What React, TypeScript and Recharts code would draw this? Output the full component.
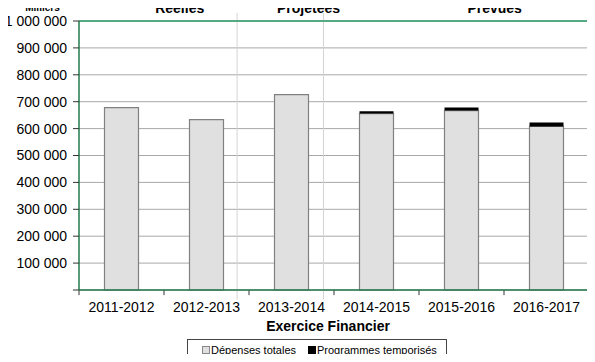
import React from 'react';
import {
  BarChart,
  Bar,
  XAxis,
  YAxis,
  CartesianGrid,
  Legend,
  ReferenceLine,
} from 'recharts';

// valeurs en milliers de dollars
const categories = ['2011-2012', '2012-2013', '2013-2014', '2014-2015', '2015-2016', '2016-2017'];
const depensesTotales = [678000, 633000, 726000, 656000, 667000, 608000];
const programmesTemporises = [0, 0, 0, 8500, 11000, 15000];
const yTicks = [0, 100000, 200000, 300000, 400000, 500000, 600000, 700000, 800000, 900000, 1000000];
const boundaryTicks = [0, 1, 2, 3, 4, 5, 6];

// séparateurs et titres de période (position sur l'axe des exercices, 0..6)
const dividers = [1.86, 2.876];
const periodLabels = ['Réelles', 'Projetées', 'Prévues'];
const periodCenters = [1.185, 2.7, 4.89];

const GREEN = '#2e9b68';
const AXIS_GREEN = '#1f7a4c';
const FONT = '"Liberation Sans", Arial, sans-serif';

const data = categories.map((name, i) => ({
  name,
  pos: i + 0.5,
  depenses: depensesTotales[i],
  temporises: programmesTemporises[i],
}));

const fmt = (v: number) => (v === 0 ? '' : String(v).replace(/\B(?=(\d{3})+(?!\d))/g, ' '));

function LegendBox() {
  const item = (color: string, border: string, text: string) => (
    <span style={{ display: 'inline-flex', alignItems: 'center', marginRight: 12 }}>
      <span
        style={{
          display: 'inline-block',
          width: 6,
          height: 6,
          background: color,
          border: `1px solid ${border}`,
          marginRight: 1,
        }}
      />
      {text}
    </span>
  );
  return (
    <div
      style={{
        border: '1px solid #444',
        width: 260,
        height: 22,
        boxSizing: 'border-box',
        display: 'flex',
        alignItems: 'center',
        paddingLeft: 14,
        fontSize: 11,
        color: '#000',
        fontFamily: FONT,
        whiteSpace: 'nowrap',
      }}
    >
      {item('#e0e0e0', '#888', 'Dépenses totales')}
      {item('#000', '#000', 'Programmes temporisés')}
    </div>
  );
}

export default function App() {
  return (
    <div style={{ margin: -8, width: 595, height: 362, background: '#fff', fontFamily: FONT }}>
      <BarChart
        width={595}
        height={362}
        data={data}
        margin={{ top: 21, right: 6, bottom: 0, left: 0 }}
        barCategoryGap="30%"
      >
        <CartesianGrid vertical={false} stroke="#a8a8a8" />
        {/* axe numérique caché : repères entre exercices et séparateurs */}
        <XAxis
          xAxisId="div"
          dataKey="pos"
          type="number"
          domain={[0, 6]}
          allowDataOverflow
          hide
        />
        <XAxis
          dataKey="name"
          height={72}
          tickLine={false}
          tickSize={5}
          tickMargin={7}
          axisLine={{ stroke: AXIS_GREEN, strokeWidth: 1.5 }}
          tick={{ fill: '#000', fontSize: 14 }}
          interval={0}
          label={{
            value: 'Exercice Financier',
            position: 'insideBottom',
            offset: 31,
            dx: -6,
            fill: '#000',
            fontSize: 14,
            fontWeight: 'bold',
          }}
        />
        <YAxis
          domain={[0, 1000000]}
          ticks={yTicks}
          interval={0}
          width={79}
          tickSize={6}
          tickMargin={6}
          tickFormatter={fmt}
          axisLine={{ stroke: AXIS_GREEN, strokeWidth: 1.5 }}
          tickLine={{ stroke: '#333' }}
          tick={{ fill: '#000', fontSize: 14 }}
          label={{
            value: 'Milliers',
            position: 'top',
            offset: 10,
            dx: 3,
            fill: '#000',
            fontSize: 10,
            fontWeight: 'bold',
          }}
        />
        {dividers.map((d) => (
          <ReferenceLine
            key={d}
            xAxisId="div"
            segment={[
              { x: d, y: 1030000 },
              { x: d, y: -35000 },
            ]}
            ifOverflow="visible"
            stroke="#d4d4d4"
          />
        ))}
        {boundaryTicks.map((t) => (
          <ReferenceLine
            key={`tick-${t}`}
            xAxisId="div"
            segment={[
              { x: t, y: 0 },
              { x: t, y: -19000 },
            ]}
            ifOverflow="visible"
            stroke="#333"
          />
        ))}
        {periodLabels.map((p, i) => (
          <ReferenceLine
            key={p}
            xAxisId="div"
            x={periodCenters[i]}
            stroke="none"
            label={{ value: p, position: 'top', offset: 8, fill: '#000', fontSize: 14, fontWeight: 'bold' }}
          />
        ))}
        <ReferenceLine y={1000000} stroke={GREEN} strokeWidth={1.5} />
        <ReferenceLine xAxisId="div" x={6} stroke={GREEN} strokeWidth={1.5} />
        <Bar
          dataKey="depenses"
          name="Dépenses totales"
          stackId="a"
          fill="#e0e0e0"
          stroke="#808080"
          strokeWidth={1.2}
          isAnimationActive={false}
        />
        <Bar
          dataKey="temporises"
          name="Programmes temporisés"
          stackId="a"
          fill="#000"
          isAnimationActive={false}
        />
        <Legend
          layout="horizontal"
          verticalAlign="middle"
          align="center"
          content={() => <LegendBox />}
          wrapperStyle={{ left: 187, top: 339, width: 260, height: 22 }}
        />
      </BarChart>
    </div>
  );
}
